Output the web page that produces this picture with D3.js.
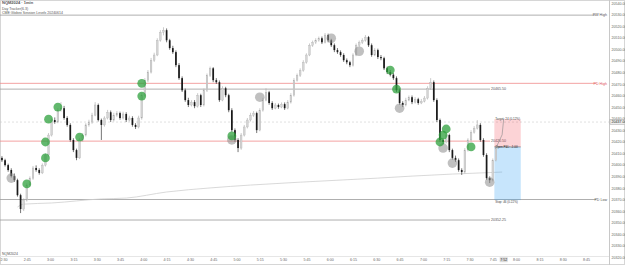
<!DOCTYPE html>
<html>
<head>
<meta charset="utf-8">
<script src="https://cdn.jsdelivr.net/npm/d3@7"></script>
<style>
body{margin:0;background:#fff;}
svg{display:block;font-family:"Liberation Sans",Arial,sans-serif;}
</style>
</head>
<body>
<div id="chart"></div>
<script>
// ---- data ----
const titleLines = ["NQM2024 · 1min", "Day Tracker(6.3)", "CME Globex Session Levels 20240614"];
const symbolTag = "NQM2024";

const firstBar = "2:29";
const barMinutes = 2;

// [open, high, low, close]
const candles = [
  [20406,20407.5,20402.5,20404],[20404,20405.25,20398.5,20399.75],[20399.75,20401,20394,20395.5],[20395.5,20397,20389,20390.25],
  [20390.25,20392.5,20385.25,20386.75],[20386.75,20388,20372.5,20373.75],[20373.75,20375,20358.25,20361.75],[20361.75,20371,20360,20369.5],
  [20369.5,20384,20368.25,20382.5],[20382.5,20390,20381,20388.5],[20388.5,20399,20387,20397.25],[20397.25,20399.5,20394,20395.5],
  [20395.5,20397,20391.5,20393],[20393,20401.25,20392,20399.75],[20399.75,20410,20398.5,20408.5],[20408.5,20427.5,20407,20425.75],
  [20425.75,20440.25,20424.5,20438.75],[20438.75,20441,20435.5,20437],[20437,20449,20436,20447.25],[20447.25,20454.25,20446,20449],
  [20449,20451,20439,20440.5],[20440.5,20442,20433,20434.5],[20434.5,20436,20420,20421.5],[20421.5,20423,20411,20412.75],
  [20412.75,20414,20404,20406],[20406,20423,20405,20421.5],[20421.5,20427.5,20420,20425.75],[20425.75,20436,20424.5,20434.5],
  [20434.5,20439,20433,20437],[20437,20445,20435.5,20443],[20443,20454.25,20442,20451.75],[20451.75,20453,20437.5,20438.75],
  [20438.75,20440,20421.5,20434.5],[20434.5,20442,20433,20440.5],[20440.5,20447.5,20439.25,20445.5],[20445.5,20447,20437,20438.75],
  [20438.75,20445,20437.5,20443],[20443,20446.5,20441.5,20444.75],[20444.75,20446,20439,20440.5],[20440.5,20446,20439.25,20444],
  [20444,20445.5,20437,20438.75],[20438.75,20442.5,20437.5,20440.5],[20440.5,20442,20433,20434.5],[20434.5,20436,20431,20432.75],
  [20432.75,20442.5,20431.5,20440.5],[20440.5,20462,20439,20460.25],[20460.25,20475,20459,20473.25],[20473.25,20482,20471.5,20480.25],
  [20480.25,20492.5,20479,20490.5],[20490.5,20497,20489,20495],[20495,20509.5,20494,20507.75],[20507.75,20516.5,20506.5,20514.75],
  [20514.75,20519,20512,20516.5],[20516.5,20518,20506,20507.75],[20507.75,20509,20499.5,20501],[20501,20503,20496,20497.5],
  [20497.5,20499,20484.5,20486.25],[20486.25,20488,20473.5,20475],[20475,20476.5,20463,20464.5],[20464.5,20466,20454.5,20456],
  [20456,20458,20450,20451.75],[20451.75,20456,20450.5,20454.25],[20454.25,20456,20449,20450.75],[20450.75,20462,20449.5,20460.25],
  [20460.25,20461.5,20450,20451.75],[20451.75,20466,20450.5,20464.5],[20464.5,20479,20463,20477.5],[20477.5,20485,20476,20483.5],
  [20483.5,20484.5,20471.5,20473.25],[20473.25,20475,20470,20471.5],[20471.5,20473,20454.5,20456],[20456,20468,20455,20466.25],
  [20466.25,20467.5,20458.5,20460.25],[20460.25,20461.5,20445.5,20447.25],[20447.25,20449,20428.5,20430],[20430,20431.5,20420,20421.5],
  [20421.5,20423,20411,20414.5],[20414.5,20427.5,20413,20425.75],[20425.75,20434.5,20424.5,20432.75],[20432.75,20440.5,20431.5,20438.75],
  [20438.75,20445,20437.5,20443],[20443,20446.5,20441.5,20444.75],[20444.75,20446,20427.5,20430],[20430,20449,20429,20447.25],
  [20447.25,20458,20446,20456],[20456,20466.25,20455,20462.75],[20462.75,20464,20452,20453.5],[20453.5,20455,20447.5,20449],
  [20449,20453.5,20448,20451.75],[20451.75,20453,20448.5,20450],[20450,20454,20449,20452.5],[20452.5,20454,20447.5,20449],
  [20449,20456,20448,20454.25],[20454.25,20462,20453,20460.25],[20460.25,20475,20459,20473.25],[20473.25,20479,20472,20477.5],
  [20477.5,20483.5,20476,20481.75],[20481.75,20490.5,20480.5,20488.75],[20488.75,20496.5,20487.5,20495],[20495,20505,20494,20503.5],
  [20503.5,20507.5,20502,20506],[20506,20509.5,20504.5,20507.75],[20507.75,20511,20506.5,20509.5],[20509.5,20511,20504.5,20506],
  [20506,20514,20505,20512.25],[20512.25,20513.5,20506,20507.75],[20507.75,20509,20502,20503.5],[20503.5,20505,20497.5,20499.25],
  [20499.25,20501,20496,20497.5],[20497.5,20499,20493.5,20495],[20495,20496.5,20489,20490.5],[20490.5,20492,20487,20488.75],
  [20488.75,20490,20484.5,20486.25],[20486.25,20496.5,20485,20495],[20495,20505,20494,20503.5],[20503.5,20507.5,20502,20506],
  [20506,20509.5,20504.5,20507.75],[20507.75,20512.25,20506.5,20510.5],[20510.5,20511.5,20502,20503.5],[20503.5,20505,20493.5,20495],
  [20495,20501,20494,20499.25],[20499.25,20500.5,20491.5,20493.25],[20493.25,20495,20490.5,20492.25],[20492.25,20493.5,20482,20483.5],
  [20483.5,20485,20478.5,20480.25],[20480.25,20482,20476.5,20478],[20478,20479.5,20473.5,20475],[20475,20476.5,20463,20464.5],
  [20464.5,20466,20452,20453.5],[20453.5,20455,20450,20451.75],[20451.75,20458,20450.5,20456],[20456,20460,20455,20458.5],
  [20458.5,20460,20452.5,20454.25],[20454.25,20458.5,20453,20456.75],[20456.75,20458,20452,20453.5],[20453.5,20457,20452.5,20455],
  [20455,20459.5,20454,20457.75],[20457.75,20468,20456.5,20466.25],[20466.25,20475,20465,20471.5],[20471.5,20473,20454.5,20456],
  [20456,20457.5,20437,20438.75],[20438.75,20440,20420,20421.5],[20421.5,20423,20418,20419.75],[20419.75,20427.5,20418.5,20425.75],
  [20425.75,20427,20411,20412.75],[20412.75,20414,20404.5,20406],[20406,20408,20402.5,20404],[20404,20405.5,20394,20395.5],
  [20395.5,20397,20391.25,20393.75],[20393.75,20414.5,20392.5,20412.75],[20412.75,20423,20411.5,20421.5],[20421.5,20430,20420,20428.25],
  [20428.25,20433.5,20427,20431.75],[20431.75,20438.75,20430.5,20434.5],[20434.5,20436,20420,20421.5],[20421.5,20423,20407,20408.5],
  [20408.5,20410,20387,20388.5],[20388.5,20390,20384.25,20386.75],[20386.75,20405.5,20385.5,20404],[20404,20416,20403,20414.5]
];

// signal dots: [bar index, price]
const greenDots = [[8,20383.5],[14,20406],[14,20419.75],[15,20439.5],[18,20450],[25,20424],[45,20470.5],[45,20459.5],
  [74,20425],[125,20482],[127,20465.5],[141,20419.75],[142,20425.75],[143,20431],[151,20415.5]];
const grayDots = [[3,20388.5],[74,20421.5],[83,20458.5],[106,20509.5],[115,20498.25],[128,20449],[142,20414.5],[145,20401.5],[157,20385]];

// session vwap: [bar index, price]
const vwapPts = [[5,20363.5],[7,20366],[16,20367],[32,20370.5],[40,20371.25],[53,20376.5],[67,20380],[80,20382.5],
  [96,20385],[121,20388.5],[132,20390.25],[145,20392],[161,20393.75]];

// levels
const sessionNames = ["PW High", "PD High", "PD Low"];
const sessionPrices = [20529.5, 20470.5, 20370];
const localNames = ["20465.50", "20420.50", "20352.25"];
const localPrices = [20465.5, 20420.5, 20352.25];
const markPrice = 20437;

// long position tool
const posStart = "7:46", posEnd = "8:03";
const posEntry = 20415.5, posTarget = 20439.5, posStop = 20369.5;
const posPath = [["7:47", 20414.5], ["7:51", 20426], ["7:52", 20439.5]];
const posTexts = ["Target: 24 (0.12%)", "Open P&L: -1.00", "Stop: 46 (0.22%)"];
const nowLabel = "7:52";

const priceTicks = [20320,20330,20340,20350,20360,20370,20380,20390,20400,20410,20420,20430,
  20440,20450,20460,20470,20480,20490,20500,20510,20520,20530,20540];
const timeTicks = ["2:30","2:45","3:00","3:15","3:30","3:45","4:00","4:15","4:30","4:45","5:00","5:15","5:30",
  "5:45","6:00","6:15","6:30","6:45","7:00","7:15","7:30","7:45","8:00","8:15","8:30","8:45"];

// ---- drawing ----
let width = 625, height = 265;
let plotRight = 609, axisY = 256, lineEnd = 596, localEnd = 490;

let parseT = d3.timeParse("%H:%M");
let t0 = parseT(firstBar);
let barTime = i => d3.timeMinute.offset(t0, barMinutes * i);

let svg = d3.select("#chart").append("svg")
	.attr("width", width)
	.attr("height", height);

let x = d3.scaleTime()
	.domain([parseT(timeTicks[0]), parseT(timeTicks[timeTicks.length - 1])])
	.range([3.5, 586]);

let y = d3.scaleLinear()
	.domain([priceTicks[0], priceTicks[priceTicks.length - 1]])
	.range([257.3, 3]);

// frame
svg.append("rect").attr("x", 0.5).attr("y", 0.5).attr("width", width - 1).attr("height", height - 1)
	.attr("fill", "#fff").attr("stroke", "#d6d6d6");
svg.append("line").attr("x1", plotRight + 0.5).attr("x2", plotRight + 0.5).attr("y1", 0).attr("y2", height)
	.attr("stroke", "#c8c8c8");
svg.append("line").attr("x1", 0).attr("x2", plotRight).attr("y1", axisY + 0.5).attr("y2", axisY + 0.5)
	.attr("stroke", "#e6e6e6");

// mark price dotted line
svg.append("line")
	.attr("x1", 0).attr("x2", plotRight)
	.attr("y1", y(markPrice)).attr("y2", y(markPrice))
	.attr("stroke", "#c9c9c9").attr("stroke-width", 0.6).attr("stroke-dasharray", "2,2");

// session levels
let levelColor = name => (name == "PD High") ? "#f08a8a" : "#9a9a9a";
sessionNames.forEach((name, i) => {
	svg.append("line")
		.attr("x1", 0).attr("x2", lineEnd)
		.attr("y1", y(sessionPrices[i])).attr("y2", y(sessionPrices[i]))
		.attr("stroke", levelColor(name)).attr("stroke-width", 0.8);
	svg.append("text")
		.attr("x", 607).attr("y", y(sessionPrices[i]) + 1.2)
		.attr("text-anchor", "end").attr("font-size", 3.6)
		.attr("fill", name == "PD High" ? "#e05555" : "#555")
		.text(name);
});

localNames.forEach((name, i) => {
	let red = (name == "20420.50");
	svg.append("line")
		.attr("x1", 0).attr("x2", localEnd)
		.attr("y1", y(localPrices[i])).attr("y2", y(localPrices[i]))
		.attr("stroke", red ? "#f08a8a" : "#9a9a9a").attr("stroke-width", 0.8);
	svg.append("text")
		.attr("x", localEnd + 1).attr("y", y(localPrices[i]) + 1.2)
		.attr("font-size", 3.6).attr("fill", "#555")
		.text(name);
});

// vwap
let vwapLine = d3.line()
	.x(d => x(barTime(d[0])))
	.y(d => y(d[1]))
	.curve(d3.curveMonotoneX);
svg.append("path")
	.datum(vwapPts)
	.attr("d", vwapLine)
	.attr("fill", "none").attr("stroke", "#cfcfcf").attr("stroke-width", 0.8);

// position tool
let px0 = x(parseT(posStart)), px1 = x(parseT(posEnd));
svg.append("rect")
	.attr("x", px0).attr("width", px1 - px0)
	.attr("y", y(posTarget)).attr("height", y(posEntry) - y(posTarget))
	.attr("fill", "rgba(242,54,69,0.22)");
svg.append("rect")
	.attr("x", px0).attr("width", px1 - px0)
	.attr("y", y(posEntry)).attr("height", y(posStop) - y(posEntry))
	.attr("fill", "rgba(33,150,243,0.25)");
svg.append("line")
	.attr("x1", px0).attr("x2", px1).attr("y1", y(posEntry)).attr("y2", y(posEntry))
	.attr("stroke", "#666").attr("stroke-width", 0.6);
svg.append("path")
	.datum(posPath)
	.attr("d", d3.line().x(d => x(parseT(d[0]))).y(d => y(d[1])))
	.attr("fill", "none").attr("stroke", "#888").attr("stroke-width", 0.6);
svg.append("text").attr("x", px0 + 1).attr("y", y(posTarget) + 0.5)
	.attr("font-size", 3).attr("fill", "#444").text(posTexts[0]);
svg.append("text").attr("x", px0 + 1).attr("y", y(posEntry) + 0.9)
	.attr("font-size", 3).attr("fill", "#222").text(posTexts[1]);
svg.append("text").attr("x", px0 + 1).attr("y", y(posStop) + 3)
	.attr("font-size", 3).attr("fill", "#444").text(posTexts[2]);

// candles
let bodyW = 1.7;
let bars = svg.append("g").selectAll("g")
	.data(candles)
	.enter()
	.append("g");

bars.append("line")
	.attr("x1", (d, i) => x(barTime(i)))
	.attr("x2", (d, i) => x(barTime(i)))
	.attr("y1", d => y(d[1]))
	.attr("y2", d => y(d[2]))
	.attr("stroke", d => d[3] >= d[0] ? "#a8a8a8" : "#1a1a1a")
	.attr("stroke-width", 0.6);

bars.append("rect")
	.attr("x", (d, i) => x(barTime(i)) - bodyW / 2)
	.attr("width", bodyW)
	.attr("y", d => y(Math.max(d[0], d[3])))
	.attr("height", d => Math.max(0.6, Math.abs(y(d[0]) - y(d[3]))))
	.attr("fill", d => d[3] >= d[0] ? "#d4d4d4" : "#1a1a1a")
	.attr("stroke", d => d[3] >= d[0] ? "#a8a8a8" : "none")
	.attr("stroke-width", 0.3);

// signal dots
svg.append("g").selectAll("circle")
	.data(grayDots)
	.enter()
	.append("circle")
	.attr("cx", d => x(barTime(d[0])))
	.attr("cy", d => y(d[1]))
	.attr("r", 4.8)
	.attr("fill", "rgba(140,140,140,0.55)");

svg.append("g").selectAll("circle")
	.data(greenDots)
	.enter()
	.append("circle")
	.attr("cx", d => x(barTime(d[0])))
	.attr("cy", d => y(d[1]))
	.attr("r", 4.4)
	.attr("fill", "rgba(46,160,60,0.75)");

// axes
let yAxis = d3.axisRight(y)
	.tickValues(priceTicks)
	.tickSize(0)
	.tickPadding(2.5)
	.tickFormat(d3.format(".2f"));
let gy = svg.append("g")
	.attr("transform", "translate(" + plotRight + ",0)")
	.call(yAxis);
gy.select(".domain").remove();
gy.selectAll("text").attr("font-size", 3.6).attr("fill", "#666");

let xAxis = d3.axisBottom(x)
	.tickValues(timeTicks.map(parseT))
	.tickSize(0)
	.tickPadding(2)
	.tickFormat(d3.timeFormat("%-H:%M"));
let gx = svg.append("g")
	.attr("transform", "translate(0," + axisY + ")")
	.call(xAxis);
gx.select(".domain").remove();
gx.selectAll("text").attr("font-size", 3.6).attr("fill", "#666");

// mark price box on the price axis
svg.append("rect")
	.attr("x", plotRight + 1).attr("y", y(markPrice) - 2.6)
	.attr("width", 15).attr("height", 5.2)
	.attr("fill", "#ededed").attr("stroke", "#999").attr("stroke-width", 0.4);
svg.append("text")
	.attr("x", plotRight + 2.5).attr("y", y(markPrice) + 1.3)
	.attr("font-size", 3.6).attr("fill", "#222")
	.text(d3.format(".2f")(markPrice));

// current time box on the time axis
let nx = x(parseT(nowLabel));
svg.append("rect")
	.attr("x", nx - 4).attr("y", axisY + 1.2)
	.attr("width", 8).attr("height", 5)
	.attr("fill", "#dcdcdc");
svg.append("text")
	.attr("x", nx).attr("y", axisY + 4.9)
	.attr("text-anchor", "middle").attr("font-size", 3.6).attr("fill", "#222")
	.text(nowLabel);

// header texts
titleLines.forEach((t, i) => {
	svg.append("text")
		.attr("x", 2).attr("y", [4, 9.5, 14][i])
		.attr("font-size", i == 0 ? 4 : 3.5)
		.attr("font-weight", i == 0 ? "bold" : "normal")
		.attr("fill", "#555")
		.text(t);
});
svg.append("text")
	.attr("x", 2).attr("y", 254.5)
	.attr("font-size", 3.5).attr("fill", "#555")
	.text(symbolTag);
</script>
</body>
</html>
